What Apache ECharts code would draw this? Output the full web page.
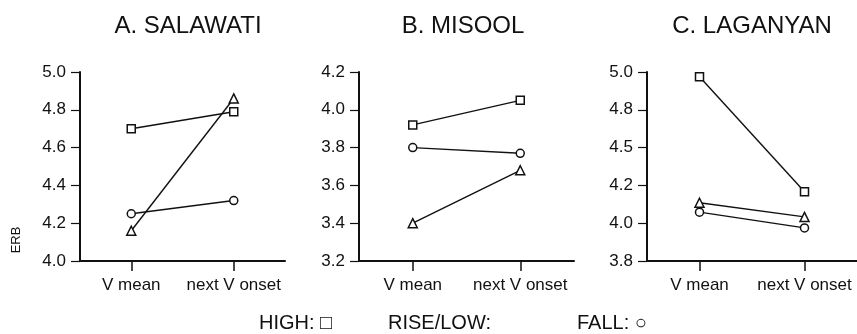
<!DOCTYPE html>
<html>
<head>
<meta charset="utf-8">
<script src="https://cdn.jsdelivr.net/npm/echarts@6/dist/echarts.min.js"></script>
<style>
  html, body { margin: 0; padding: 0; background: #fff; }
  #chart { width: 857px; height: 334px; }
</style>
</head>
<body>
<div id="chart"></div>
<script>
// categories and panel titles
var categories = ['V mean', 'next V onset'];
var titles = ['A. SALAWATI', 'B. MISOOL', 'C. LAGANYAN'];

// values: [V mean, next V onset]
var salawatiHigh = [4.70, 4.79];
var salawatiRise = [4.16, 4.86];
var salawatiFall = [4.25, 4.32];

var misoolHigh = [3.92, 4.05];
var misoolRise = [3.40, 3.68];
var misoolFall = [3.80, 3.77];

var laganyanHigh = [4.97, 4.24];
var laganyanRise = [4.17, 4.08];
var laganyanFall = [4.11, 4.01];

// tick labels of panel C as printed (axis is evenly spaced from 3.8 to 5.0)
var laganyanTicks = ['3.8', '4.0', '4.2', '4.5', '4.8', '5.0'];

var font = 'Liberation Sans, Arial, sans-serif';
var ink = '#111';

var grids = [
    { left: 80, top: 72, width: 205, height: 189 },
    { left: 359, top: 72, width: 215, height: 189 },
    { left: 647, top: 72, width: 214, height: 189 }
];

var yRanges = [
    { min: 4.0, max: 5.0, interval: 0.2 },
    { min: 3.2, max: 4.2, interval: 0.2 },
    { min: 3.8, max: 5.0, interval: 0.24 }
];

var xAxes = grids.map(function (g, i) {
    return {
        type: 'category',
        gridIndex: i,
        data: categories,
        boundaryGap: true,
        axisLine: { lineStyle: { color: ink, width: 2 } },
        axisTick: { show: true, interval: 0, alignWithLabel: true, length: 10, lineStyle: { color: ink, width: 1.5 } },
        axisLabel: { interval: 0, hideOverlap: false, color: ink, fontSize: 17, fontFamily: font, margin: 16 },
        splitLine: { show: false }
    };
});

var yAxes = yRanges.map(function (r, i) {
    return {
        type: 'value',
        gridIndex: i,
        min: r.min,
        max: r.max,
        interval: r.interval,
        axisLine: { show: true, lineStyle: { color: ink, width: 2 } },
        axisTick: { show: true, length: 9, lineStyle: { color: ink, width: 1.2 } },
        axisLabel: {
            color: ink, fontSize: 17, fontFamily: font, margin: 14,
            formatter: i === 2 ? function (v) {
                return laganyanTicks[Math.round((v - 3.8) / 0.24)] || '';
            } : function (v) { return v.toFixed(1); }
        },
        splitLine: { show: false }
    };
});

function line(data, symbol, idx) {
    return {
        type: 'line',
        xAxisIndex: idx,
        yAxisIndex: idx,
        data: data,
        symbol: symbol,
        symbolSize: symbol === 'triangle' ? 9 : 8,
        showAllSymbol: true,
        lineStyle: { color: ink, width: 1.4 },
        itemStyle: { color: '#fff', borderColor: ink, borderWidth: 1.5 },
        emphasis: { disabled: true },
        z: 3
    };
}

var series = [
    line(salawatiHigh, 'rect', 0), line(salawatiRise, 'triangle', 0), line(salawatiFall, 'circle', 0),
    line(misoolHigh, 'rect', 1), line(misoolRise, 'triangle', 1), line(misoolFall, 'circle', 1),
    line(laganyanHigh, 'rect', 2), line(laganyanRise, 'triangle', 2), line(laganyanFall, 'circle', 2)
];

var titleCenters = [188, 463, 752];
var graphic = titles.map(function (t, i) {
    return {
        type: 'text', x: titleCenters[i], y: 26,
        style: { text: t, font: '24px ' + font, fill: ink, textAlign: 'center', textVerticalAlign: 'middle' }
    };
});
graphic.push({
    type: 'text', x: 16, y: 240, rotation: Math.PI / 2,
    style: { text: 'ERB', font: '13px ' + font, fill: ink, textAlign: 'center', textVerticalAlign: 'middle' }
});
graphic.push(
    { type: 'text', x: 259, y: 323, style: { text: 'HIGH: \u25A1', font: '20px ' + font, fill: ink, textVerticalAlign: 'middle' } },
    { type: 'text', x: 388, y: 323, style: { text: 'RISE/LOW:', font: '20px ' + font, fill: ink, textVerticalAlign: 'middle' } },
    { type: 'text', x: 577, y: 323, style: { text: 'FALL: \u25CB', font: '20px ' + font, fill: ink, textVerticalAlign: 'middle' } }
);

var myChart = echarts.init(document.getElementById('chart'));
myChart.setOption({
    animation: false,
    backgroundColor: '#fff',
    grid: grids,
    xAxis: xAxes,
    yAxis: yAxes,
    series: series,
    graphic: graphic
});
</script>
</body>
</html>
